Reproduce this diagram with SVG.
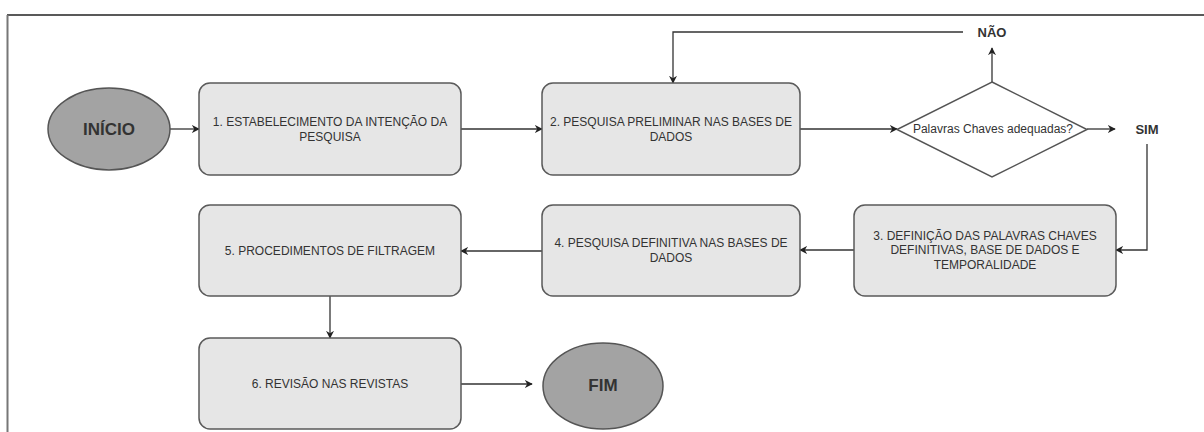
<svg xmlns="http://www.w3.org/2000/svg" width="1204" height="432" viewBox="0 0 1204 432">
<style>
.box{fill:#e6e6e6;stroke:#5a5a5a;stroke-width:1.5}
.ell{fill:#a3a3a3;stroke:#555;stroke-width:1.5}
.t{font-family:"Liberation Sans",Arial,sans-serif;font-size:12px;fill:#333;text-anchor:middle;dominant-baseline:central}
.b{font-family:"Liberation Sans",Arial,sans-serif;font-weight:bold;fill:#333;text-anchor:middle;dominant-baseline:central}
.c{fill:none;stroke:#333;stroke-width:1.3}
</style>
<defs>
<marker id="ah" viewBox="0 0 10 10" refX="9" refY="5" markerWidth="8" markerHeight="8" markerUnits="userSpaceOnUse" orient="auto">
<path d="M0,0 L10,5 L0,10 L3,5 Z" fill="#222"/>
</marker>
</defs>
<rect width="1204" height="432" fill="#fff"/>
<g id="frame">
<line x1="7" y1="15" x2="1204" y2="15" stroke="#222" stroke-width="1.5"/>
<line x1="7.5" y1="15" x2="7.5" y2="432" stroke="#777" stroke-width="2"/>
</g>
<g id="connectors">
<line class="c" x1="170" y1="129" x2="199" y2="129" marker-end="url(#ah)"/>
<line class="c" x1="461" y1="129" x2="542" y2="129" marker-end="url(#ah)"/>
<line class="c" x1="800" y1="129" x2="897" y2="129" marker-end="url(#ah)"/>
<line class="c" x1="1087" y1="129" x2="1115" y2="129" marker-end="url(#ah)"/>
<line class="c" x1="992" y1="82" x2="992" y2="48" marker-end="url(#ah)" stroke="#555"/>
<polyline class="c" points="963,32 673,32 673,83" marker-end="url(#ah)"/>
<polyline class="c" points="1147,144 1147,250 1116,250" marker-end="url(#ah)" stroke="#777"/>
<line class="c" x1="854" y1="250" x2="800" y2="250" marker-end="url(#ah)"/>
<line class="c" x1="542" y1="251" x2="461" y2="251" marker-end="url(#ah)"/>
<line class="c" x1="330" y1="296" x2="330" y2="338" marker-end="url(#ah)" stroke="#555"/>
<line class="c" x1="461" y1="384" x2="532" y2="384" marker-end="url(#ah)" stroke="#555"/>
</g>
<g id="inicio">
<ellipse class="ell" cx="109" cy="129" rx="61" ry="41"/>
<text class="b" x="109" y="129" font-size="17">INÍCIO</text>
</g>
<g id="n1">
<rect class="box" x="199" y="83" width="262" height="92" rx="11"/>
<text class="t" x="330" y="122">1. ESTABELECIMENTO DA INTENÇÃO DA</text>
<text class="t" x="330" y="137">PESQUISA</text>
</g>
<g id="n2">
<rect class="box" x="542" y="83" width="258" height="92" rx="11"/>
<text class="t" x="671" y="122">2. PESQUISA PRELIMINAR NAS BASES DE</text>
<text class="t" x="671" y="137">DADOS</text>
</g>
<g id="decisao">
<polygon points="992,82 1087,129.5 992,177 897,129.5" fill="#fff" stroke="#555" stroke-width="1.5"/>
<text class="t" x="993" y="129">Palavras Chaves adequadas?</text>
</g>
<g id="nao">
<text class="b" x="992" y="32" font-size="13">NÃO</text>
</g>
<g id="sim">
<text class="b" x="1147" y="129" font-size="13">SIM</text>
</g>
<g id="n3">
<rect class="box" x="854" y="205" width="262" height="91" rx="11"/>
<text class="t" x="985" y="236">3. DEFINIÇÃO DAS PALAVRAS CHAVES</text>
<text class="t" x="985" y="250">DEFINITIVAS, BASE DE DADOS E</text>
<text class="t" x="985" y="265">TEMPORALIDADE</text>
</g>
<g id="n4">
<rect class="box" x="542" y="205" width="258" height="91" rx="11"/>
<text class="t" x="671" y="243">4. PESQUISA DEFINITIVA NAS BASES DE</text>
<text class="t" x="671" y="258">DADOS</text>
</g>
<g id="n5">
<rect class="box" x="199" y="205" width="262" height="91" rx="11"/>
<text class="t" x="330" y="251">5. PROCEDIMENTOS DE FILTRAGEM</text>
</g>
<g id="n6">
<rect class="box" x="199" y="338" width="262" height="91" rx="11"/>
<text class="t" x="330" y="384">6. REVISÃO NAS REVISTAS</text>
</g>
<g id="fim">
<ellipse class="ell" cx="603" cy="386" rx="60" ry="43"/>
<text class="b" x="603" y="385" font-size="17">FIM</text>
</g>
</svg>
